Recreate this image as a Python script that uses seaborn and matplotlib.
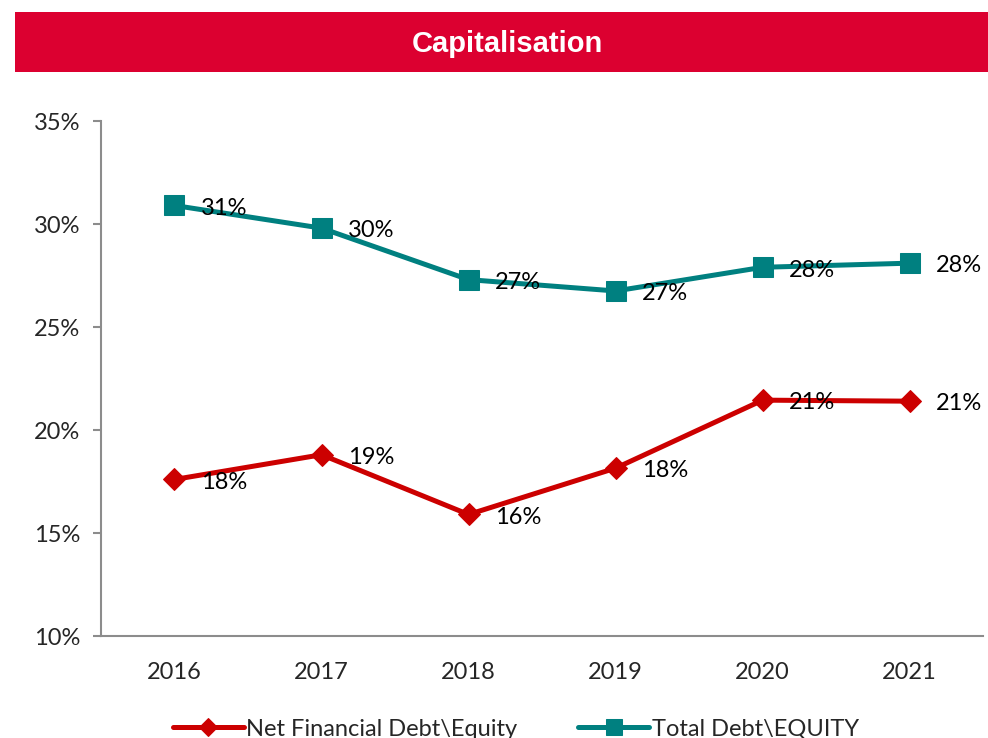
import matplotlib
matplotlib.use('Agg')
import matplotlib.pyplot as plt
from matplotlib.patches import Rectangle
from matplotlib.ticker import FixedLocator, PercentFormatter
import seaborn as sns
import pandas as pd

# Data
years = ['2016', '2017', '2018', '2019', '2020', '2021']
net_fin_debt_equity = [17.6, 18.8, 15.9, 18.15, 21.45, 21.4]
total_debt_equity = [30.9, 29.8, 27.3, 26.75, 27.9, 28.1]
y_ticks = [10, 15, 20, 25, 30, 35]

RED = '#CC0000'
TEAL = '#008080'
BANNER = '#DC0030'
AXIS_GREY = '#8C8C8C'
FS = 17

sns.set_style('white')
plt.rcParams['font.family'] = ['Lato', 'DejaVu Sans']

df = pd.DataFrame({
    'pos': list(range(len(years))),
    'net': net_fin_debt_equity,
    'total': total_debt_equity,
})

fig = plt.figure(figsize=(9.88, 7.38), dpi=100)
ax = fig.add_axes([0.1022, 0.1382, 0.893, 0.6978])

sns.lineplot(data=df, x='pos', y='net', ax=ax, color=RED, linewidth=3.6,
             marker='D', markersize=11, markeredgecolor=RED,
             label='Net Financial Debt\\Equity')
sns.lineplot(data=df, x='pos', y='total', ax=ax, color=TEAL, linewidth=3.6,
             marker='s', markersize=14, markeredgecolor=TEAL,
             label='Total Debt\\EQUITY')

# Data labels to the right of each point
for series in ['net', 'total']:
    for x, v in zip(df['pos'], df[series]):
        ax.annotate(f'{round(v):.0f}%', (x, v), xytext=(19, -2),
                    textcoords='offset points', ha='left', va='center',
                    fontsize=FS, color='black')

ax.set_xlim(-0.5, len(years) - 0.5)
ax.set_ylim(10, 35)
ax.set_xticks(range(len(years)))
ax.set_xticklabels(years)
ax.xaxis.set_minor_locator(FixedLocator([i - 0.5 for i in range(len(years) + 1)]))
ax.set_yticks(y_ticks)
ax.yaxis.set_major_formatter(PercentFormatter(decimals=0))
ax.tick_params(axis='x', which='major', length=0, pad=19, labelsize=FS)
ax.tick_params(axis='x', which='minor', length=7, width=1.5, color=AXIS_GREY, direction='out')
ax.tick_params(axis='y', length=6, width=1.5, color=AXIS_GREY, pad=9, labelsize=FS,
               direction='out', left=True)
ax.set_xlabel('')
ax.set_ylabel('')
ax.grid(False)

for side in ['top', 'right']:
    ax.spines[side].set_visible(False)
for side in ['left', 'bottom']:
    ax.spines[side].set_color(AXIS_GREY)
    ax.spines[side].set_linewidth(1.5)

leg = ax.legend(loc='center', bbox_to_anchor=(0.522, 0.012), bbox_transform=fig.transFigure,
                ncol=2, frameon=False, fontsize=FS, handlelength=3.0, handletextpad=0.1,
                columnspacing=2.6, markerscale=0.8)

# Title banner
fig.patches.append(Rectangle((0.0152, 0.9024), 0.99, 0.0813, transform=fig.transFigure,
                             facecolor=BANNER, edgecolor='none', zorder=0))
fig.text(0.5135, 0.940, 'Capitalisation', ha='center', va='center', color='white',
         fontsize=21, fontweight='bold', family=['Liberation Sans', 'DejaVu Sans'])

fig.savefig('out.png', dpi=100)
